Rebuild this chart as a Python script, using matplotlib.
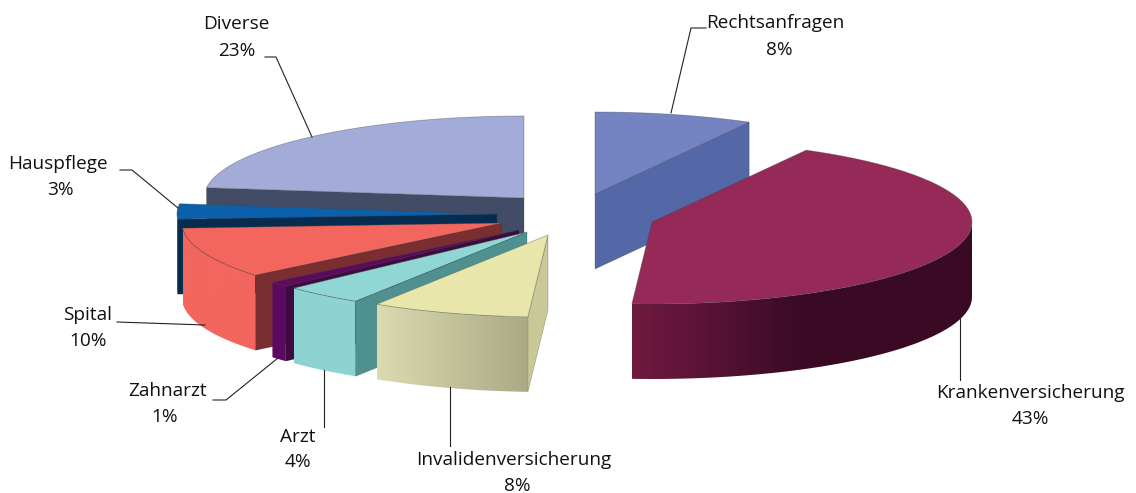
import numpy as np
import matplotlib
matplotlib.use("Agg")
import matplotlib.pyplot as plt
from matplotlib.colors import LinearSegmentedColormap
from matplotlib.patches import Polygon

# clockwise from 12 o'clock
categories = ["Rechtsanfragen", "Krankenversicherung", "Invalidenversicherung", "Arzt",
              "Zahnarzt", "Spital", "Hauspflege", "Diverse"]
percent = [8, 43, 8, 4, 1, 10, 3, 23]

# exploded centre of each slice, in pixels
centres = [(595, 194), (652, 222), (548, 235), (527, 232),
           (519, 230), (502, 223), (497, 214), (524, 198)]
top_colors = ["#7484c2", "#952a58", "#e8e6aa", "#90d6d4", "#5c0a60", "#f2665e", "#0a60aa", "#a3acd8"]
# colour stops of the outer wall, left to right
arc_colors = [None, ("#701a40", "#3a0a24", "#3a0a24"), ("#dcdab0", "#a9a985"), ("#8ed2d2", "#8ed2d2"),
              ("#5c0a60", "#5c0a60"), ("#f2665e", "#f2665e"), ("#0a3a66", "#0a3a66"), ("#434c66", "#434c66")]
cut_colors = ["#5468a8", None, "#c9c997", "#4f9090", "#3e0a40", "#7a2e30", "#062c50", "#434c66"]
cut_side = ["end", None, "start", "start", "start", "start", "start", "start"]
draw_order = [0, 1, 7, 6, 5, 4, 3, 2]

RX, RY, DEPTH = 320, 82, 75

# text lines: (x, y) of name and of percentage
name_pos = [(775, 23), (1030, 393), (514, 460), (298, 437), (168, 391), (88, 315), (58, 164), (236, 24)]
pct_pos = [(779, 50), (1030, 419), (517, 486), (298, 462), (165, 417), (88, 341), (60, 190), (237, 51)]
leaders = [
    [(706, 28), (691, 28), (671, 113)],
    [(960, 317), (960, 380)],
    [(450, 387), (450, 446)],
    [(324, 370), (324, 427)],
    [(278, 358), (226, 400), (213, 400)],
    [(205, 325), (117, 322)],
    [(178, 208), (132, 170), (120, 170)],
    [(312, 137), (276, 57), (265, 57)],
]


def rim(centre, a0, a1, n=60):
    """Points on the top rim between two clockwise angles from 12 o'clock."""
    t = np.radians(np.linspace(a0, a1, n))
    return np.column_stack([centre[0] + RX * np.sin(t), centre[1] - RY * np.cos(t)])


def gradient_fill(ax, pts, stops, zorder):
    """Fill a polygon with a left to right gradient."""
    cmap = LinearSegmentedColormap.from_list("side", list(stops))
    patch = Polygon(pts, closed=True, facecolor="none", edgecolor="none", zorder=zorder)
    ax.add_patch(patch)
    img = ax.imshow(np.linspace(0, 1, 256)[None, :], cmap=cmap, aspect="auto", zorder=zorder,
                    extent=(pts[:, 0].min(), pts[:, 0].max(), pts[:, 1].max(), pts[:, 1].min()))
    img.set_clip_path(patch)


fig = plt.figure(figsize=(11.36, 4.93), dpi=100)
ax = fig.add_axes([0, 0, 1, 1])

edges = np.cumsum([0] + percent) * 3.6
z = 2
for i in draw_order:
    a0, a1 = edges[i], edges[i + 1]
    c = centres[i]
    pts = rim(c, a0, a1)
    down = np.array([0, DEPTH])

    # outer wall, only the part that faces the viewer
    lo, hi = max(a0, 90), min(a1, 270)
    if arc_colors[i] is not None and hi > lo:
        wall = rim(c, lo, hi)
        poly = np.vstack([wall, (wall + down)[::-1]])
        gradient_fill(ax, poly, arc_colors[i], z)
        z += 1

    # cut face
    if cut_side[i] is not None:
        p = pts[0] if cut_side[i] == "start" else pts[-1]
        face = np.array([c, p, p + down, np.array(c) + down])
        ax.add_patch(Polygon(face, closed=True, facecolor=cut_colors[i], edgecolor="#33333355",
                             linewidth=0.5, zorder=z))
        z += 1

    ax.add_patch(Polygon(np.vstack([c, pts]), closed=True, facecolor=top_colors[i],
                         edgecolor="#44444466", linewidth=0.6, zorder=z))
    z += 1

for line in leaders:
    xs, ys = zip(*line)
    ax.plot(xs, ys, color="#222222", linewidth=0.8, zorder=z)

for name, pct, np_, pp in zip(categories, percent, name_pos, pct_pos):
    ax.text(np_[0], np_[1], name, ha="center", va="center", fontsize=13.7,
            family="Open Sans", color="#111111", zorder=z)
    ax.text(pp[0], pp[1], f"{pct}%", ha="center", va="center", fontsize=13.7,
            family="Open Sans", color="#111111", zorder=z)

ax.set_xlim(0, 1136)
ax.set_ylim(493, 0)
ax.axis("off")
fig.savefig("out.png", dpi=100)
plt.close(fig)
